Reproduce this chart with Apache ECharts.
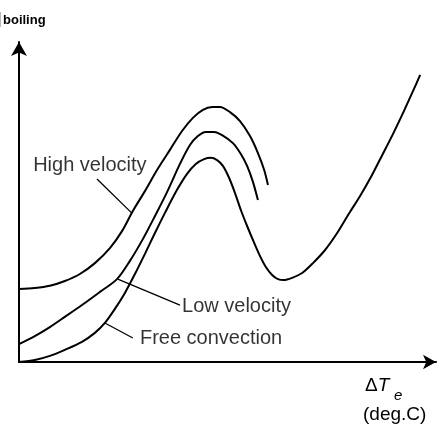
<!DOCTYPE html>
<html>
<head>
<meta charset="utf-8">
<script src="https://cdn.jsdelivr.net/npm/echarts@6/dist/echarts.min.js"></script>
<style>
  html, body { margin: 0; padding: 0; background: #fff; }
  #chart { width: 443px; height: 426px; }
</style>
</head>
<body>
<div id="chart"></div>
<script>
// boiling curve, arbitrary units (0..100 on both axes)
// high velocity
const highX = [0, 3.8, 7.4, 11.0, 14.6, 18.2, 21.8, 24.7, 27.3, 30.2, 33.1, 36.2, 39.1, 41.7, 44.1, 46.3, 48.2, 50.6, 53.0, 55.4, 57.3, 58.8, 59.7];
const highY = [22.8, 23.1, 23.8, 25.3, 27.5, 30.9, 35.6, 40.9, 47.2, 53.4, 60.0, 66.3, 72.2, 76.3, 78.8, 79.7, 79.7, 78.1, 75.3, 70.6, 65.3, 60.0, 55.3];
// low velocity
const lowX = [0, 3.8, 7.4, 11.0, 15.1, 19.4, 23.5, 26.6, 29.7, 32.6, 35.5, 38.6, 41.0, 42.9, 44.8, 46.8, 48.7, 51.3, 53.2, 54.7, 56.1, 57.3];
const lowY = [5.6, 8.1, 10.9, 14.1, 17.8, 21.9, 25.9, 31.6, 38.4, 45.6, 53.1, 61.9, 67.8, 70.6, 71.9, 71.9, 70.9, 68.4, 65.0, 61.3, 56.3, 50.6];
// free convection (goes on through the minimum and up again)
const freeX = [0, 3.8, 7.4, 11.0, 15.1, 18.2, 20.6, 23.0, 25.4, 27.8, 30.2, 32.6, 35.0, 37.9, 40.3, 42.4, 44.4, 46.0, 47.5, 48.9, 50.4, 51.8, 53.2, 54.7, 56.4, 57.8, 59.2, 60.7, 62.1, 63.5, 65.5, 67.9, 70.5, 73.4, 76.3, 79.1, 81.8, 84.4, 87.0, 89.7, 92.3, 94.5, 96.2];
const freeY = [0, 0.6, 1.9, 3.8, 6.3, 9.1, 12.2, 16.6, 21.6, 27.5, 33.8, 40.3, 46.6, 53.8, 58.8, 61.9, 63.4, 63.8, 63.1, 61.3, 57.5, 52.8, 47.5, 42.5, 37.2, 33.1, 29.7, 27.2, 25.9, 25.6, 26.3, 27.8, 30.9, 35.0, 40.3, 46.3, 51.9, 57.8, 64.4, 71.3, 78.4, 84.7, 89.7];

// labels and their leader lines
const labelNames = ['High velocity', 'Low velocity', 'Free convection'];
const labelX = [3.4, 39.1, 29.0];
const labelY = [61.3, 17.2, 7.5];
const leaderX = [[18.7, 27.0], [23.7, 38.6], [20.6, 27.3]];
const leaderY = [[57.2, 46.6], [25.9, 17.8], [12.2, 7.5]];

const zip = (xs, ys) => xs.map((x, i) => [x, ys[i]]);
const FONT = 'Liberation Sans, Arial, sans-serif';

const curve = (name, xs, ys) => ({
  name: name,
  type: 'line',
  data: zip(xs, ys),
  smooth: 0.3,
  symbol: 'none',
  lineStyle: { color: '#000', width: 2 },
  silent: true
});

const leaders = leaderX.map((xs, i) => ({
  type: 'line',
  data: zip(xs, leaderY[i]),
  symbol: 'none',
  lineStyle: { color: '#000', width: 1.3 },
  silent: true
}));

const chart = echarts.init(document.getElementById('chart'));
const option = {
  backgroundColor: '#fff',
  animation: false,
  grid: { left: 19, right: 7, top: 42, bottom: 64 },
  xAxis: {
    type: 'value',
    min: 0,
    max: 100,
    axisLine: {
      show: true,
      symbol: ['none', 'arrow'],
      symbolSize: [11, 13],
      lineStyle: { color: '#000', width: 2 }
    },
    axisTick: { show: false },
    axisLabel: { show: false },
    splitLine: { show: false }
  },
  yAxis: {
    type: 'value',
    min: 0,
    max: 100,
    axisLine: {
      show: true,
      symbol: ['none', 'arrow'],
      symbolSize: [12, 14],
      lineStyle: { color: '#000', width: 2 }
    },
    axisTick: { show: false },
    axisLabel: { show: false },
    splitLine: { show: false }
  },
  series: [
    curve('High velocity', highX, highY),
    curve('Low velocity', lowX, lowY),
    curve('Free convection', freeX, freeY),
    ...leaders,
    {
      type: 'scatter',
      symbolSize: 0,
      silent: true,
      data: labelNames.map((n, i) => ({ name: n, value: [labelX[i], labelY[i]] })),
      label: {
        show: true,
        position: 'right',
        distance: 0,
        formatter: '{b}',
        color: '#000',
        fontSize: 20,
        fontFamily: FONT
      }
    }
  ],
  graphic: [
    // y axis title: q (mostly cut off) with subscript "boiling"
    { type: 'text', x: -9.5, y: 17, style: { text: 'q', fill: '#000', fontSize: 20, fontFamily: FONT, verticalAlign: 'middle' } },
    { type: 'text', x: 3, y: 20, style: { text: 'boiling', fill: '#000', fontSize: 13, fontWeight: 'bold', fontFamily: FONT, verticalAlign: 'middle' } },
    // x axis title
    {
      type: 'text', x: 365, y: 386,
      style: {
        text: '{a|Δ}{b|T}',
        fill: '#000',
        verticalAlign: 'middle',
        rich: {
          a: { fontSize: 19, fontFamily: FONT, fill: '#000' },
          b: { fontSize: 19, fontFamily: FONT, fontStyle: 'italic', fill: '#000' }
        }
      }
    },
    { type: 'text', x: 394, y: 396, style: { text: 'e', fill: '#000', fontSize: 15, fontStyle: 'italic', fontFamily: FONT, verticalAlign: 'middle' } },
    { type: 'text', x: 363, y: 415, style: { text: '(deg.C)', fill: '#000', fontSize: 19, fontFamily: FONT, verticalAlign: 'middle' } }
  ]
};
chart.setOption(option);
</script>
</body>
</html>
